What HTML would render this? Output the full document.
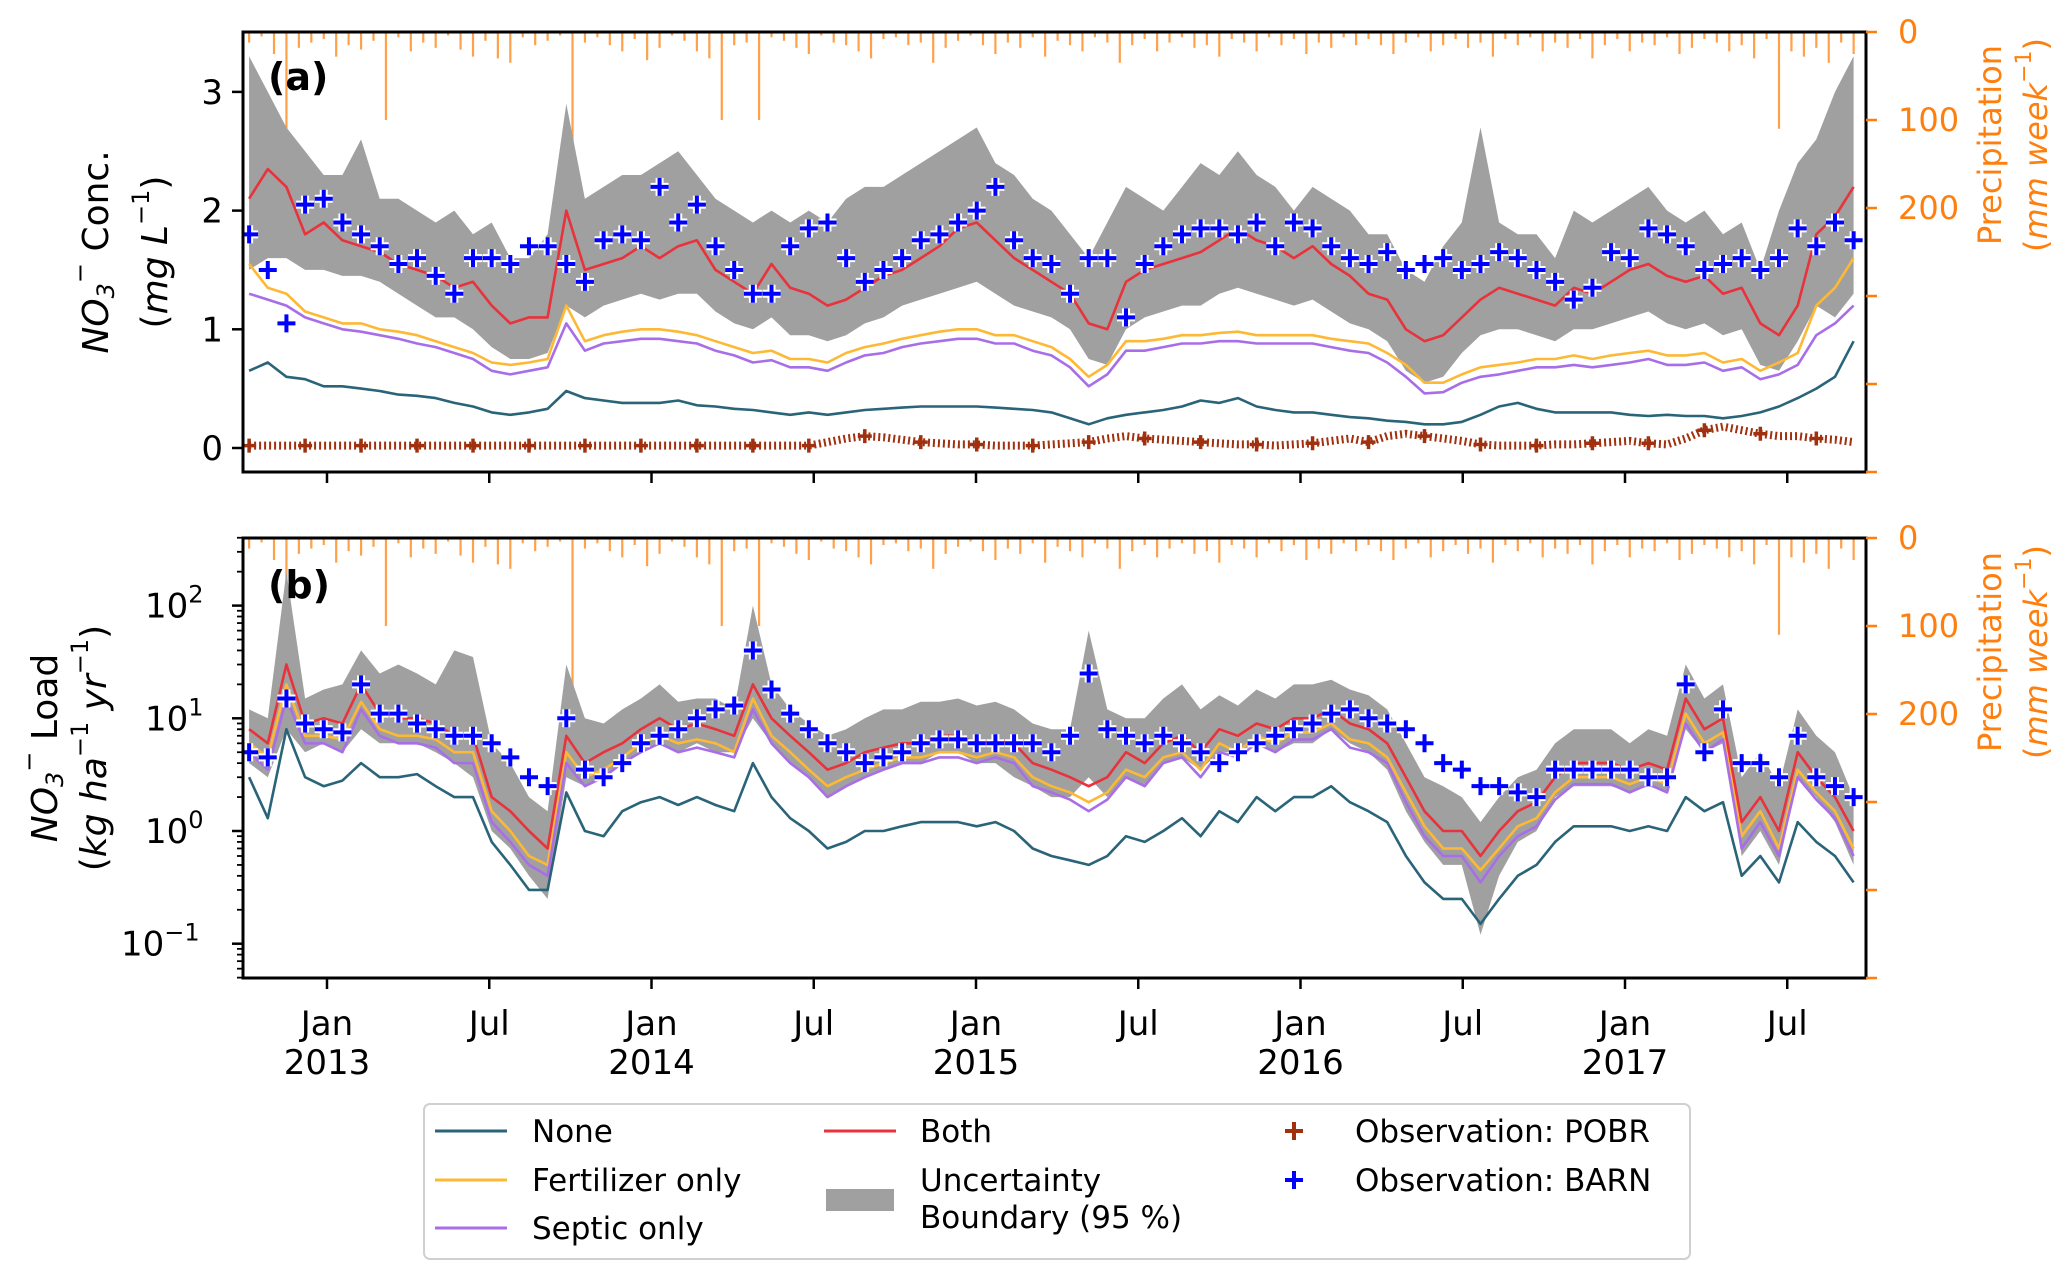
<!DOCTYPE html>
<html><head><meta charset="utf-8"><style>
html,body{margin:0;padding:0;background:#fff}
svg{display:block;font-family:"DejaVu Sans","Liberation Sans",sans-serif}
</style></head><body>
<svg id="chart" width="2067" height="1281" viewBox="0 0 2067 1281" xmlns="http://www.w3.org/2000/svg">
<defs>
<clipPath id="clipA"><rect x="243" y="32" width="1623" height="440"/></clipPath>
<clipPath id="clipB"><rect x="243" y="538" width="1623" height="440"/></clipPath>
</defs>
<g id="panelA"></g>
<g id="panelB"></g>
<g id="axes"></g>
<text x="268" y="90" font-size="38" font-weight="bold">(a)</text>
<text x="268" y="598" font-size="38" font-weight="bold">(b)</text>
<text transform="translate(96,252) rotate(-90)" text-anchor="middle" dominant-baseline="central" font-size="36"><tspan font-style="italic">NO</tspan><tspan font-size="24" dy="10" font-style="italic">3</tspan><tspan font-size="24" dy="-26">−</tspan><tspan dy="16"> Conc.</tspan></text>
<text transform="translate(155,252) rotate(-90)" text-anchor="middle" dominant-baseline="central" font-size="36">(<tspan font-style="italic">mg L</tspan><tspan font-size="24" dy="-14">−1</tspan><tspan dy="14">)</tspan></text>
<text transform="translate(45,748) rotate(-90)" text-anchor="middle" dominant-baseline="central" font-size="36"><tspan font-style="italic">NO</tspan><tspan font-size="24" dy="10" font-style="italic">3</tspan><tspan font-size="24" dy="-26">−</tspan><tspan dy="16"> Load</tspan></text>
<text transform="translate(94,748) rotate(-90)" text-anchor="middle" dominant-baseline="central" font-size="36">(<tspan font-style="italic">kg ha</tspan><tspan font-size="24" dy="-14">−1</tspan><tspan dy="14" font-style="italic"> yr</tspan><tspan font-size="24" dy="-14">−1</tspan><tspan dy="14">)</tspan></text>
<text transform="translate(1990,145) rotate(-90)" text-anchor="middle" dominant-baseline="central" font-size="32" fill="#ff7f0e">Precipitation</text>
<text transform="translate(2036,145) rotate(-90)" text-anchor="middle" dominant-baseline="central" font-size="32" fill="#ff7f0e">(<tspan font-style="italic">mm week</tspan><tspan font-size="22" dy="-12">−1</tspan><tspan dy="12">)</tspan></text>
<text transform="translate(1990,652) rotate(-90)" text-anchor="middle" dominant-baseline="central" font-size="32" fill="#ff7f0e">Precipitation</text>
<text transform="translate(2036,652) rotate(-90)" text-anchor="middle" dominant-baseline="central" font-size="32" fill="#ff7f0e">(<tspan font-style="italic">mm week</tspan><tspan font-size="22" dy="-12">−1</tspan><tspan dy="12">)</tspan></text>
<g>
<rect x="424" y="1104" width="1266" height="155" rx="6" fill="#fff" stroke="#d0d0d0" stroke-width="2"/>
<line x1="435" y1="1131" x2="507" y2="1131" stroke="#2a6478" stroke-width="3"/>
<text x="532" y="1142" font-size="31">None</text>
<line x1="435" y1="1180" x2="507" y2="1180" stroke="#fdb935" stroke-width="3"/>
<text x="532" y="1191" font-size="31">Fertilizer only</text>
<line x1="435" y1="1228" x2="507" y2="1228" stroke="#a86ee8" stroke-width="3"/>
<text x="532" y="1239" font-size="31">Septic only</text>
<line x1="824" y1="1131" x2="896" y2="1131" stroke="#e8323c" stroke-width="3"/>
<text x="920" y="1142" font-size="31">Both</text>
<rect x="826" y="1189" width="68" height="22" fill="#a0a0a0"/>
<text x="920" y="1191" font-size="31">Uncertainty</text>
<text x="920" y="1228" font-size="31">Boundary (95 %)</text>
<path d="M1294,1122 v18 M1285,1131 h18" stroke="#a0300e" stroke-width="4"/>
<text x="1355" y="1142" font-size="31">Observation: POBR</text>
<path d="M1294,1171 v18 M1285,1180 h18" stroke="#0000ff" stroke-width="4"/>
<text x="1355" y="1191" font-size="31">Observation: BARN</text>
</g>
</svg>
<script>
// ---- data (3-week step starting early Oct 2012) ----
const startYear = 2012.76;
const stepYears = 21/365.25;
const precipStartYear = 2012.76;
const precipStepYears = 14/365.25;
const concBoth = [2.1,2.35,2.2,1.8,1.9,1.75,1.7,1.65,1.55,1.5,1.45,1.35,1.4,1.2,1.05,1.1,1.1,2.0,1.5,1.55,1.6,1.7,1.6,1.7,1.75,1.5,1.4,1.3,1.55,1.35,1.3,1.2,1.25,1.35,1.45,1.5,1.6,1.7,1.85,1.9,1.75,1.6,1.5,1.4,1.3,1.05,1.0,1.4,1.5,1.55,1.6,1.65,1.75,1.85,1.75,1.7,1.6,1.7,1.55,1.45,1.3,1.25,1.0,0.9,0.95,1.1,1.25,1.35,1.3,1.25,1.2,1.35,1.3,1.4,1.5,1.55,1.45,1.4,1.45,1.3,1.35,1.05,0.95,1.2,1.8,1.95,2.2];
const concUpper = [3.3,3.0,2.7,2.5,2.3,2.3,2.6,2.1,2.1,2.0,1.9,2.0,1.8,1.9,1.6,1.6,1.8,2.9,2.1,2.2,2.3,2.3,2.4,2.5,2.3,2.1,2.0,1.9,2.0,1.9,2.0,1.9,2.1,2.2,2.2,2.3,2.4,2.5,2.6,2.7,2.4,2.3,2.1,2.0,1.8,1.6,1.9,2.2,2.1,2.0,2.2,2.4,2.3,2.5,2.3,2.2,2.0,2.2,2.1,2.0,1.8,1.8,1.5,1.4,1.7,1.9,2.7,1.9,1.8,1.8,1.6,2.0,1.9,2.0,2.1,2.2,2.0,1.9,2.0,1.8,1.9,1.5,2.0,2.4,2.6,3.0,3.3];
const concLower = [1.5,1.6,1.6,1.5,1.5,1.45,1.45,1.4,1.3,1.2,1.1,1.1,1.0,0.85,0.75,0.75,0.8,1.2,1.1,1.2,1.25,1.3,1.25,1.3,1.3,1.15,1.05,1.0,1.1,0.95,0.95,0.9,0.95,1.05,1.1,1.2,1.25,1.3,1.35,1.4,1.3,1.2,1.15,1.1,1.0,0.75,0.7,1.0,1.1,1.15,1.2,1.2,1.3,1.35,1.3,1.25,1.2,1.25,1.15,1.05,1.0,0.9,0.65,0.55,0.6,0.8,0.95,1.0,1.0,0.95,0.9,1.0,1.0,1.05,1.1,1.15,1.05,1.0,1.05,0.95,1.0,0.7,0.65,0.9,1.2,1.1,1.3];
const concFert = [1.55,1.35,1.3,1.15,1.1,1.05,1.05,1.0,0.98,0.95,0.9,0.85,0.8,0.72,0.7,0.72,0.75,1.2,0.9,0.95,0.98,1.0,1.0,0.98,0.95,0.9,0.85,0.8,0.82,0.75,0.75,0.72,0.8,0.85,0.88,0.92,0.95,0.98,1.0,1.0,0.95,0.95,0.9,0.85,0.75,0.6,0.7,0.9,0.9,0.92,0.95,0.95,0.97,0.98,0.95,0.95,0.95,0.95,0.92,0.9,0.88,0.8,0.7,0.55,0.55,0.62,0.68,0.7,0.72,0.75,0.75,0.78,0.75,0.78,0.8,0.82,0.78,0.78,0.8,0.72,0.75,0.65,0.72,0.8,1.2,1.35,1.6];
const concSeptic = [1.3,1.25,1.2,1.1,1.05,1.0,0.98,0.95,0.92,0.88,0.85,0.8,0.75,0.65,0.62,0.65,0.68,1.05,0.82,0.88,0.9,0.92,0.92,0.9,0.88,0.82,0.78,0.72,0.74,0.68,0.68,0.65,0.72,0.78,0.8,0.85,0.88,0.9,0.92,0.92,0.88,0.88,0.82,0.78,0.68,0.52,0.62,0.82,0.82,0.85,0.88,0.88,0.9,0.9,0.88,0.88,0.88,0.88,0.85,0.82,0.8,0.72,0.6,0.46,0.47,0.55,0.6,0.62,0.65,0.68,0.68,0.7,0.68,0.7,0.72,0.75,0.7,0.7,0.72,0.65,0.68,0.58,0.62,0.7,0.95,1.05,1.2];
const concNone = [0.65,0.72,0.6,0.58,0.52,0.52,0.5,0.48,0.45,0.44,0.42,0.38,0.35,0.3,0.28,0.3,0.33,0.48,0.42,0.4,0.38,0.38,0.38,0.4,0.36,0.35,0.33,0.32,0.3,0.28,0.3,0.28,0.3,0.32,0.33,0.34,0.35,0.35,0.35,0.35,0.34,0.33,0.32,0.3,0.25,0.2,0.25,0.28,0.3,0.32,0.35,0.4,0.38,0.42,0.35,0.32,0.3,0.3,0.28,0.26,0.25,0.23,0.22,0.2,0.2,0.22,0.28,0.35,0.38,0.33,0.3,0.3,0.3,0.3,0.28,0.27,0.28,0.27,0.27,0.25,0.27,0.3,0.35,0.42,0.5,0.6,0.9];
const concBarn = [1.8,1.5,1.05,2.05,2.1,1.9,1.8,1.7,1.55,1.6,1.45,1.3,1.6,1.6,1.55,1.7,1.7,1.55,1.4,1.75,1.8,1.75,2.2,1.9,2.05,1.7,1.5,1.3,1.3,1.7,1.85,1.9,1.6,1.4,1.5,1.6,1.75,1.8,1.9,2.0,2.2,1.75,1.6,1.55,1.3,1.6,1.6,1.1,1.55,1.7,1.8,1.85,1.85,1.8,1.9,1.7,1.9,1.85,1.7,1.6,1.55,1.65,1.5,1.55,1.6,1.5,1.55,1.65,1.6,1.5,1.4,1.25,1.35,1.65,1.6,1.85,1.8,1.7,1.5,1.55,1.6,1.5,1.6,1.85,1.7,1.9,1.75];
const concPobr = [0.02,0.02,0.02,0.02,0.02,0.02,0.02,0.02,0.02,0.02,0.02,0.02,0.02,0.02,0.02,0.02,0.02,0.02,0.02,0.02,0.02,0.02,0.02,0.02,0.02,0.02,0.02,0.02,0.02,0.02,0.02,0.05,0.08,0.1,0.09,0.07,0.05,0.04,0.03,0.03,0.02,0.02,0.02,0.03,0.04,0.05,0.08,0.1,0.08,0.07,0.06,0.05,0.04,0.03,0.03,0.02,0.03,0.04,0.06,0.08,0.05,0.1,0.12,0.1,0.08,0.06,0.03,0.02,0.02,0.02,0.03,0.03,0.04,0.05,0.06,0.04,0.03,0.08,0.15,0.18,0.15,0.12,0.1,0.1,0.08,0.07,0.05];
const loadBoth = [8,6,30,9,10,9,20,11,10,10,9,7,7,2,1.5,1,0.7,7,4,5,6,8,10,8,9,8,7,20,10,7,5,3.5,4,5,5.5,6,6,7,7,6,6.5,6,4,3.5,3,2.5,3,5,4,6,7,5,8,7,9,8,10,10,12,9,8,6,3,1.5,1,1,0.6,1,1.5,1.8,3,4,4,4,3.5,4,3.5,15,8,10,1.2,2,1,5,3,2,1];
const loadUpper = [12,10,200,15,18,20,40,25,30,25,20,40,35,6,4,2,1.5,30,10,9,12,15,20,14,15,15,12,100,20,12,9,7,8,10,12,12,14,14,15,13,14,12,9,8,8,60,12,10,10,15,20,12,16,13,18,15,20,20,22,18,16,12,6,3,2.5,2,1.2,2,3,3.5,6,8,8,8,6,8,7,30,15,20,3,5,2.5,12,7,5,2];
const loadLower = [4,3,8,5,6,5,8,6,6,6,5,4,3,1,0.7,0.4,0.25,3,2.5,3,4,5,6,5,6,5,5,10,6,4,3,2,2.5,3,3.5,4,4,5,5,4,4,3,2.5,2,2,3,2,3,2.5,4,4.5,3.5,5,5,6,5,6,6,8,6,5,3.5,1.5,0.8,0.5,0.5,0.12,0.4,0.8,1,2,2.5,2.5,2.5,2.2,2.5,2.2,8,5,6,0.6,1,0.5,3,2,1.2,0.5];
const loadFert = [6,4.5,20,7,7,6.5,14,8,7,7,6.5,5,5,1.5,1,0.6,0.5,5,3,3.5,4.5,6,7,6,6.5,6,5,15,7,5,3.5,2.5,3,3.5,4,4.5,4.5,5,5,4.5,5,4.5,3,2.5,2.2,1.8,2.2,3.5,3,4.5,5,3.5,6,5,7,6,7.5,7.5,9,6.5,6,4.5,2.2,1.1,0.7,0.7,0.45,0.7,1.1,1.3,2.2,3,3,3,2.6,3,2.6,11,6,7.5,0.9,1.5,0.7,3.5,2.2,1.5,0.7];
const loadSeptic = [5,3.5,15,6,6,5,12,7,6,6,5.5,4,4,1.2,0.8,0.5,0.4,4,2.5,3,4,5,6,5,5.5,5,4.5,12,6,4,3,2,2.5,3,3.5,4,4,4.5,4.5,4,4.5,4,2.5,2.2,1.9,1.5,1.9,3,2.5,4,4.5,3,5,4.5,6,5,6.5,6.5,8,5.5,5,4,1.8,0.9,0.6,0.6,0.35,0.6,0.9,1.1,1.9,2.6,2.6,2.6,2.2,2.6,2.2,9,5,6.5,0.7,1.2,0.6,3,1.9,1.3,0.6];
const loadNone = [3,1.3,8,3,2.5,2.8,4,3,3,3.2,2.5,2,2,0.8,0.5,0.3,0.3,2.2,1,0.9,1.5,1.8,2,1.7,2,1.7,1.5,4,2,1.3,1,0.7,0.8,1,1,1.1,1.2,1.2,1.2,1.1,1.2,1,0.7,0.6,0.55,0.5,0.6,0.9,0.8,1,1.3,0.9,1.5,1.2,2,1.5,2,2,2.5,1.8,1.5,1.2,0.6,0.35,0.25,0.25,0.15,0.25,0.4,0.5,0.8,1.1,1.1,1.1,1,1.1,1,2,1.5,1.8,0.4,0.6,0.35,1.2,0.8,0.6,0.35];
const loadBarn = [5,4.5,15,9,8,7.5,20,11,11,9,8,7,7,6,4.5,3,2.5,10,3.5,3,4,6,7,8,10,12,13,40,18,11,8,6,5,4,4.5,5,6,6.5,6.5,6,6,6,6,5,7,25,8,7,6,7,6,5,4,5,6,7,8,9,11,12,10,9,8,6,4,3.5,2.5,2.5,2.2,2,3.5,3.5,3.5,3.5,3.5,3,3,20,5,12,4,4,3,7,3,2.5,2];
const precip = [12,5,25,155,18,12,8,28,15,20,10,100,6,22,12,18,4,20,28,10,30,35,6,15,10,4,190,12,6,15,22,8,32,18,4,10,22,30,100,15,12,100,6,10,18,25,4,12,15,22,30,8,6,15,12,35,18,10,4,15,25,12,18,6,28,10,15,22,6,12,35,15,8,22,12,6,18,15,28,8,12,22,6,15,8,25,12,18,6,15,8,15,25,12,6,22,15,8,18,12,28,8,15,6,22,12,18,8,30,15,8,22,12,15,6,25,18,8,12,22,15,30,8,110,22,28,18,35,12,25];
const xTickYears = [2013,2013.5,2014,2014.5,2015,2015.5,2016,2016.5,2017,2017.5];
const xTickMonths = ["Jan","Jul","Jan","Jul","Jan","Jul","Jan","Jul","Jan","Jul"];
const xTickYearLabels = ["2013","","2014","","2015","","2016","","2017",""];
const concTicks = [0,1,2,3];
const loadTickExps = [-1,0,1,2];
const precipTicks = [0,100,200,300,400,500];
const precipTickLabels = ["0","100","200","","",""];

// ---- scales ----
const L=243,R=1866,topA=32,botA=472,topB=538,botB=978;
const xs = t => 327 + (t-2013)*324.5;
const tAt = i => startYear + i*stepYears;
const ya = v => 448 - v*118.7;
const yb = v => 831 - Math.log10(v)*112.7;
const pScale = p => p*0.88;
const NS="http://www.w3.org/2000/svg";
function mk(tag, attrs, parent){const e=document.createElementNS(NS,tag);for(const k in attrs)e.setAttribute(k,attrs[k]);parent.appendChild(e);return e;}
function linePath(arr, y){return arr.map((v,i)=>(i?'L':'M')+xs(tAt(i)).toFixed(1)+','+y(v).toFixed(1)).join('');}
function bandPath(up, lo, y){let d=up.map((v,i)=>(i?'L':'M')+xs(tAt(i)).toFixed(1)+','+y(v).toFixed(1)).join('');for(let i=lo.length-1;i>=0;i--)d+='L'+xs(tAt(i)).toFixed(1)+','+y(lo[i]).toFixed(1);return d+'Z';}

function drawPanel(gid, clip, top, y, up, lo, none, fert, septic, both, barn, pobr, pfx){
  const g=document.getElementById(gid);
  const c=mk('g',{'clip-path':'url(#'+clip+')'},g);
  const pg=mk('g',{},c);
  
  
  precip.forEach((p,j)=>{
    const x=xs(precipStartYear+j*precipStepYears);
    const b=mk('line',{x1:x,x2:x,y1:top,y2:top+pScale(p),stroke:'#ffa04a','stroke-width':2.2},pg);
    
    
  });
  const band=mk('path',{d:bandPath(up,lo,y),fill:'#a0a0a0',stroke:'none'},c);
  
  
  const series=[[none,'#2a6478','none'],[fert,'#fdb935','fertilizer-only'],[septic,'#a86ee8','septic-only'],[both,'#e8323c','both']];
  series.forEach(s=>{
    const p=mk('path',{d:linePath(s[0],y),fill:'none',stroke:s[1],'stroke-width':2.6,'stroke-linejoin':'round'},c);
    
    
  });
  if(pobr){
    const pl=mk('path',{d:linePath(pobr,y),fill:'none',stroke:'#a0300e','stroke-width':8,'stroke-dasharray':'2 3'},c);
    
    
    pobr.forEach((v,i)=>{
      if(i%3) return;
      const x=xs(tAt(i)),yy=y(v);
      const m=mk('path',{d:`M${x},${yy-7}v14M${x-7},${yy}h14`,stroke:'#a0300e','stroke-width':3.5},c);
      
      
    });
  }
  barn.forEach((v,i)=>{
    const x=xs(tAt(i)),yy=y(v);
    const d=`M${x},${yy-9}v18M${x-9},${yy}h18`;
    mk('path',{d:d,stroke:'#fff','stroke-width':8},c);
    const m=mk('path',{d:d,stroke:'#0000ff','stroke-width':4},c);
    
    
  });
}
drawPanel('panelA','clipA',topA,ya,concUpper,concLower,concNone,concFert,concSeptic,concBoth,concBarn,concPobr,'conc');
drawPanel('panelB','clipB',topB,yb,loadUpper,loadLower,loadNone,loadFert,loadSeptic,loadBoth,loadBarn,null,'load');

// ---- axes ----
const ax=document.getElementById('axes');
[[topA,botA,'a'],[topB,botB,'b']].forEach(([t,b,n])=>{
  const r=mk('rect',{x:L,y:t,width:R-L,height:b-t,fill:'none',stroke:'#000','stroke-width':3},ax);
  
  
  xTickYears.forEach(ty=>{mk('line',{x1:xs(ty),x2:xs(ty),y1:b,y2:b+11,stroke:'#000','stroke-width':2.5},ax);});
  precipTicks.forEach((p,k)=>{
    const yy=t+pScale(p);
    mk('line',{x1:R,x2:R+11,y1:yy,y2:yy,stroke:'#ff7f0e','stroke-width':2.5},ax);
    if(precipTickLabels[k]){
      const tx=mk('text',{x:R+32,y:yy+11,'font-size':32,fill:'#ff7f0e'},ax);
      tx.textContent=precipTickLabels[k];
      
      
    }
  });
});
concTicks.forEach(v=>{
  const yy=ya(v);
  mk('line',{x1:L-11,x2:L,y1:yy,y2:yy,stroke:'#000','stroke-width':2.5},ax);
  const tx=mk('text',{x:L-20,y:yy+12,'font-size':34,'text-anchor':'end'},ax);
  tx.textContent=String(v);
  
  
});
for(let e=-2;e<=2;e++){for(let m=1;m<10;m++){const v=m*Math.pow(10,e);if(v<0.05||v>400)continue;const yy=yb(v);
  mk('line',{x1:L-(m===1?11:6),x2:L,y1:yy,y2:yy,stroke:'#000','stroke-width':m===1?2.5:1.8},ax);}}
loadTickExps.forEach(e=>{
  const yy=yb(Math.pow(10,e));
  const tx=mk('text',{x:L-20,y:yy+12,'font-size':34,'text-anchor':'start'},ax);
  const a=document.createElementNS(NS,'tspan');a.textContent='10';tx.appendChild(a);
  const s=document.createElementNS(NS,'tspan');s.setAttribute('font-size','24');s.setAttribute('dy','-15');s.textContent=e<0?'−'+(-e):String(e);tx.appendChild(s);
  tx.setAttribute('x', L-20-(e<0?102:78));
  
  
});
xTickYears.forEach((ty,k)=>{
  const t1=mk('text',{x:xs(ty),y:1035,'font-size':34,'text-anchor':'middle'},ax);
  t1.textContent=xTickMonths[k];
  
  
  if(xTickYearLabels[k]){
    const t2=mk('text',{x:xs(ty),y:1074,'font-size':34,'text-anchor':'middle'},ax);
    t2.textContent=xTickYearLabels[k];
    
    
  }
});
</script>
</body></html>
